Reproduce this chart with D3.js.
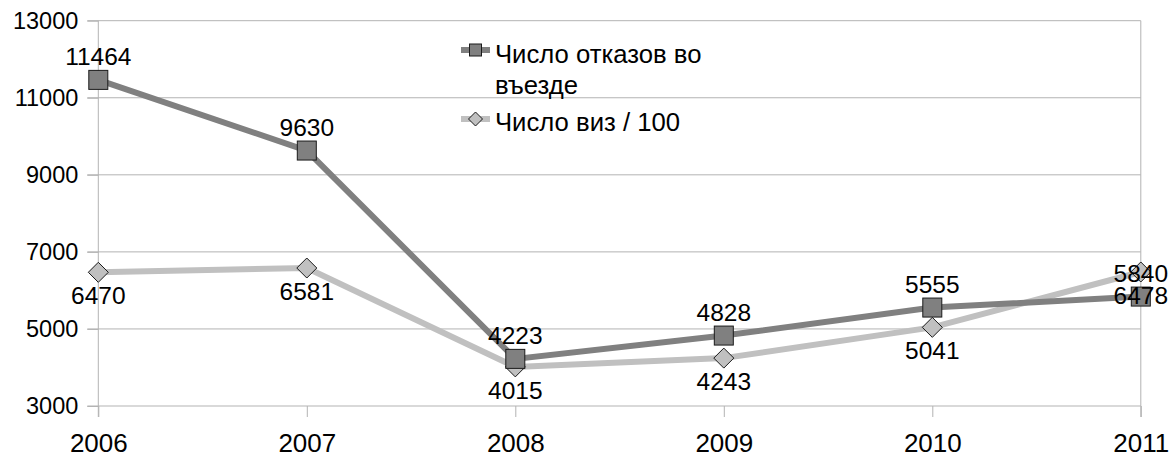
<!DOCTYPE html>
<html>
<head>
<meta charset="utf-8">
<script src="https://cdn.jsdelivr.net/npm/d3@7"></script>
<style>
  body { margin: 0; background: #fff; }
  text { font-family: "Liberation Sans", Arial, sans-serif; fill: #000; }
</style>
</head>
<body>
<div id="chart"></div>
<script>
// data
var years = ["2006", "2007", "2008", "2009", "2010", "2011"];
var refusals = [11464, 9630, 4223, 4828, 5555, 5840];
var visas = [6470, 6581, 4015, 4243, 5041, 6478];
var yTicks = [3000, 5000, 7000, 9000, 11000, 13000];
var seriesNames = ["Число отказов во|въезде", "Число виз / 100"];

var width = 1171, height = 455;
var plot = { left: 98.3, right: 1140.8, top: 20.7, bottom: 406 };

var svg = d3.select("#chart")
    .append("svg")
    .attr("width", width)
    .attr("height", height);

var x = d3.scalePoint()
    .domain(years)
    .range([plot.left, plot.right]);

var y = d3.scaleLinear()
    .domain([3000, 13000])
    .range([plot.bottom, plot.top]);

// horizontal grid lines
svg.append("g")
    .selectAll("line")
    .data(yTicks)
    .enter()
    .append("line")
    .attr("x1", plot.left - 11)
    .attr("x2", plot.right)
    .attr("y1", function (d) { return y(d); })
    .attr("y2", function (d) { return y(d); })
    .attr("stroke", "#b3b3b3")
    .attr("stroke-width", 1);

// Y axis
var yAxis = svg.append("g")
    .attr("transform", "translate(" + plot.left + ",0)")
    .call(d3.axisLeft(y).tickValues(yTicks).tickSize(11).tickPadding(9).tickFormat(d3.format("d")));
yAxis.select(".domain").attr("stroke", "#b3b3b3").attr("d", "M0," + plot.top + "V" + (plot.bottom + 11));
yAxis.selectAll(".tick line").attr("stroke", "#b3b3b3");
yAxis.selectAll(".tick text")
    .attr("font-size", 23.5)
    .attr("font-family", "Liberation Sans, Arial, sans-serif")
    .attr("fill", "#000");

// X axis
var xAxis = svg.append("g")
    .attr("transform", "translate(0," + plot.bottom + ")")
    .call(d3.axisBottom(x).tickSize(11).tickPadding(17));
xAxis.select(".domain").remove();
xAxis.selectAll(".tick line").attr("stroke", "#b3b3b3");
xAxis.selectAll(".tick text")
    .attr("font-size", 26)
    .attr("font-family", "Liberation Sans, Arial, sans-serif")
    .attr("fill", "#000");

// right border
svg.append("line")
    .attr("x1", plot.right).attr("x2", plot.right)
    .attr("y1", plot.top).attr("y2", plot.bottom + 11)
    .attr("stroke", "#b3b3b3");

var line = d3.line()
    .x(function (d, i) { return x(years[i]); })
    .y(function (d) { return y(d); });

// visas line (light)
svg.append("path")
    .datum(visas)
    .attr("d", line)
    .attr("fill", "none")
    .attr("stroke", "#c0c0c0")
    .attr("stroke-width", 6);

// refusals line (dark)
svg.append("path")
    .datum(refusals)
    .attr("d", line)
    .attr("fill", "none")
    .attr("stroke", "#808080")
    .attr("stroke-width", 6);

// diamonds
svg.append("g")
    .selectAll("path")
    .data(visas)
    .enter()
    .append("path")
    .attr("transform", function (d, i) { return "translate(" + x(years[i]) + "," + y(d) + ")"; })
    .attr("d", "M0,-10L10,0L0,10L-10,0Z")
    .attr("fill", "#c0c0c0")
    .attr("stroke", "#1a1a1a")
    .attr("stroke-width", 1);

// squares
svg.append("g")
    .selectAll("rect")
    .data(refusals)
    .enter()
    .append("rect")
    .attr("x", function (d, i) { return x(years[i]) - 9.5; })
    .attr("y", function (d) { return y(d) - 9.5; })
    .attr("width", 19)
    .attr("height", 19)
    .attr("fill", "#808080")
    .attr("stroke", "#1a1a1a")
    .attr("stroke-width", 1);

// data labels
svg.append("g")
    .selectAll("text")
    .data(refusals)
    .enter()
    .append("text")
    .attr("x", function (d, i) { return x(years[i]); })
    .attr("y", function (d) { return y(d) - 15; })
    .attr("text-anchor", "middle")
    .attr("font-size", 24.5)
    .text(function (d) { return d; });

svg.append("g")
    .selectAll("text")
    .data(visas)
    .enter()
    .append("text")
    .attr("x", function (d, i) { return x(years[i]); })
    .attr("y", function (d) { return y(d) + 32; })
    .attr("text-anchor", "middle")
    .attr("font-size", 24.5)
    .text(function (d) { return d; });

// legend
var legend = svg.append("g").attr("transform", "translate(461,0)");

legend.append("line")
    .attr("x1", 0).attr("x2", 29).attr("y1", 50).attr("y2", 50)
    .attr("stroke", "#808080").attr("stroke-width", 6);
legend.append("rect")
    .attr("x", 8.5).attr("y", 44).attr("width", 12).attr("height", 12)
    .attr("fill", "#808080").attr("stroke", "#1a1a1a");
var t1 = legend.append("text")
    .attr("x", 34).attr("y", 63)
    .attr("font-size", 25.7);
seriesNames[0].split("|").forEach(function (s, i) {
    t1.append("tspan").attr("x", 34).attr("dy", i === 0 ? 0 : 31).text(s);
});

legend.append("line")
    .attr("x1", 0).attr("x2", 29).attr("y1", 119).attr("y2", 119)
    .attr("stroke", "#c0c0c0").attr("stroke-width", 6);
legend.append("path")
    .attr("transform", "translate(14.5,119)")
    .attr("d", "M0,-7L7,0L0,7L-7,0Z")
    .attr("fill", "#c0c0c0").attr("stroke", "#1a1a1a");
legend.append("text")
    .attr("x", 34).attr("y", 131)
    .attr("font-size", 25.7)
    .text(seriesNames[1]);
</script>
</body>
</html>
